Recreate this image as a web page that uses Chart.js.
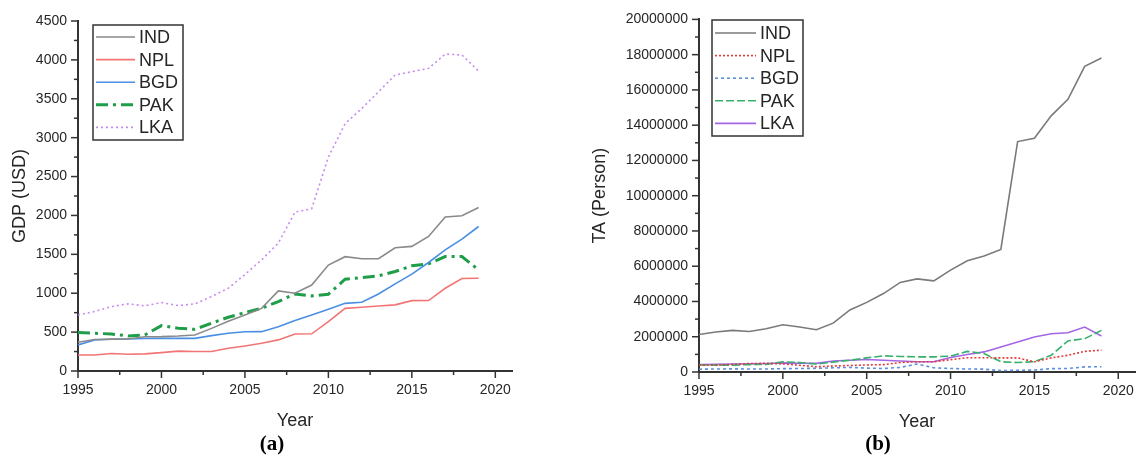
<!DOCTYPE html>
<html>
<head>
<meta charset="utf-8">
<script src="https://cdn.jsdelivr.net/npm/chart.js@4.4.0/dist/chart.umd.min.js"></script>
<style>
  body { margin: 0; background: #fff; width: 1145px; height: 460px; position: relative; overflow: hidden; }
  canvas { position: absolute; top: 0; }
  #chartA { left: 0; }
  #chartB { left: 580px; }
  .cap { position: absolute; top: 429px; width: 60px; text-align: center; line-height: 28px;
         font-family: "Liberation Serif", "Times New Roman", serif; font-weight: bold; font-size: 21px; color: #000; }
</style>
</head>
<body>
<canvas id="chartA" width="530" height="435"></canvas>
<canvas id="chartB" width="565" height="436"></canvas>
<div class="cap" style="left:242px">(a)</div>
<div class="cap" style="left:848px">(b)</div>
<script>
// years and axis ticks
const years = [1995, 1996, 1997, 1998, 1999, 2000, 2001, 2002, 2003, 2004, 2005, 2006, 2007,
               2008, 2009, 2010, 2011, 2012, 2013, 2014, 2015, 2016, 2017, 2018, 2019];
const yearTicks = [1995, 2000, 2005, 2010, 2015, 2020];
const gdpTicks = [0, 500, 1000, 1500, 2000, 2500, 3000, 3500, 4000, 4500];
const taTicks = [0, 2000000, 4000000, 6000000, 8000000, 10000000, 12000000, 14000000, 16000000, 18000000, 20000000];

// (a) GDP per capita, USD
const gdpIND = [370, 405, 410, 412, 440, 442, 450, 463, 548, 640, 720, 805, 1030, 1000, 1105, 1362, 1470, 1443, 1445, 1585, 1602, 1730, 1980, 1996, 2102];
const gdpNPL = [206, 206, 225, 215, 220, 236, 255, 250, 250, 292, 322, 356, 400, 476, 478, 635, 805, 820, 835, 850, 905, 906, 1064, 1190, 1192];
const gdpBGD = [335, 398, 408, 412, 418, 420, 420, 420, 455, 485, 505, 506, 570, 648, 721, 794, 870, 884, 990, 1120, 1245, 1395, 1558, 1695, 1858];
const gdpPAK = [494, 485, 476, 451, 463, 584, 549, 536, 614, 691, 751, 807, 893, 991, 966, 987, 1180, 1202, 1223, 1279, 1352, 1378, 1472, 1472, 1300];
const gdpLKA = [720, 765, 828, 863, 837, 880, 841, 863, 957, 1064, 1240, 1429, 1644, 2043, 2086, 2750, 3180, 3375, 3590, 3806, 3848, 3891, 4075, 4063, 3857];

// (b) tourist arrivals, persons
const taIND = [2130000, 2270000, 2360000, 2300000, 2450000, 2680000, 2550000, 2400000, 2770000, 3520000, 3950000, 4450000, 5080000,
               5280000, 5170000, 5780000, 6310000, 6580000, 6950000, 13070000, 13260000, 14530000, 15470000, 17340000, 17810000];
const taNPL = [390000, 395000, 430000, 480000, 490000, 460000, 380000, 300000, 340000, 370000, 400000, 420000, 540000,
               580000, 580000, 700000, 810000, 810000, 800000, 800000, 580000, 800000, 950000, 1170000, 1240000];
const taBGD = [160000, 170000, 180000, 170000, 170000, 190000, 200000, 210000, 240000, 260000, 220000, 200000, 260000,
               450000, 240000, 200000, 170000, 160000, 80000, 100000, 110000, 190000, 200000, 290000, 300000];
const taPAK = [400000, 390000, 390000, 420000, 430000, 580000, 540000, 450000, 560000, 670000, 800000, 920000, 880000,
               860000, 860000, 900000, 1170000, 1050000, 580000, 540000, 580000, 950000, 1760000, 1890000, 2360000];
const taLKA = [420000, 430000, 450000, 460000, 480000, 520000, 500000, 490000, 620000, 670000, 710000, 670000, 620000,
               580000, 580000, 820000, 990000, 1140000, 1420000, 1700000, 1990000, 2170000, 2230000, 2550000, 2040000];

const axisColor = '#333';
const textColor = '#262626';
Chart.defaults.font.family = '"Liberation Sans", Arial, sans-serif';
Chart.defaults.color = textColor;

function halfSteps(t) {
  const out = [];
  for (let i = 0; i < t.length - 1; i++) out.push((t[i] + t[i + 1]) / 2);
  return out;
}

// outward major/minor tick marks
const axisMarks = {
  id: 'axisMarks',
  afterDraw(chart, args, o) {
    const { ctx, scales: { x, y } } = chart;
    ctx.save();
    ctx.strokeStyle = axisColor;
    ctx.lineWidth = 1.5;
    const mark = (px, py, dx, dy) => {
      ctx.beginPath(); ctx.moveTo(px, py); ctx.lineTo(px + dx, py + dy); ctx.stroke();
    };
    yearTicks.forEach(v => mark(x.getPixelForValue(v), y.bottom, 0, 7));
    halfSteps(yearTicks).forEach(v => mark(x.getPixelForValue(v), y.bottom, 0, 4));
    o.yTicks.forEach(v => mark(x.left, y.getPixelForValue(v), -7, 0));
    halfSteps(o.yTicks).forEach(v => mark(x.left, y.getPixelForValue(v), -4, 0));
    ctx.restore();
  }
};

// framed legend inside the plot
const boxLegend = {
  id: 'boxLegend',
  afterDraw(chart, args, o) {
    const ctx = chart.ctx;
    ctx.save();
    ctx.strokeStyle = axisColor;
    ctx.lineWidth = 1.5;
    ctx.setLineDash([]);
    ctx.strokeRect(o.x, o.y, o.w, o.h);
    ctx.font = '18px "Liberation Sans", Arial, sans-serif';
    ctx.fillStyle = textColor;
    ctx.textBaseline = 'middle';
    chart.data.datasets.forEach((ds, i) => {
      const cy = o.y + o.first + i * o.row;
      ctx.strokeStyle = ds.borderColor;
      ctx.lineWidth = ds.borderWidth;
      ctx.setLineDash(ds.borderDash || []);
      ctx.beginPath(); ctx.moveTo(o.x + 3, cy); ctx.lineTo(o.x + 3 + o.line, cy); ctx.stroke();
      ctx.fillText(ds.label, o.x + o.line + 7, cy + 1);
    });
    ctx.restore();
  }
};

function series(label, values, color, width, dash) {
  return {
    label,
    data: years.map((yr, i) => ({ x: yr, y: values[i] })),
    borderColor: color,
    borderWidth: width,
    borderDash: dash,
    pointRadius: 0,
    tension: 0,
    fill: false
  };
}

function scales(yTicks, yMax, yWidth, yTitle) {
  return {
    x: {
      type: 'linear', min: 1995, max: 2021,
      afterBuildTicks: s => { s.ticks = yearTicks.map(v => ({ value: v })); },
      afterFit: s => { s.height = 64; },
      grid: { display: false, drawTicks: false },
      border: { display: true, color: axisColor, width: 2 },
      ticks: { font: { size: 14 }, color: textColor, padding: 11, maxRotation: 0, callback: v => String(v) },
      title: { display: true, text: 'Year', font: { size: 18 }, color: textColor, padding: { top: 0, bottom: 3 } }
    },
    y: {
      type: 'linear', min: 0, max: yMax,
      afterBuildTicks: s => { s.ticks = yTicks.map(v => ({ value: v })); },
      afterFit: s => { s.width = yWidth; },
      grid: { display: false, drawTicks: false },
      border: { display: true, color: axisColor, width: 2 },
      ticks: { font: { size: 14 }, color: textColor, padding: 11, callback: v => String(v) },
      title: { display: true, text: yTitle, font: { size: 18 }, color: textColor, padding: { top: 9, bottom: 0 } }
    }
  };
}

new Chart(document.getElementById('chartA'), {
  type: 'line',
  data: {
    datasets: [
      series('IND', gdpIND, '#8a8a8a', 1.6, []),
      series('NPL', gdpNPL, '#f27575', 1.6, []),
      series('BGD', gdpBGD, '#4a8fe3', 1.6, []),
      series('PAK', gdpPAK, '#1e9e48', 3, [12, 5, 3, 5]),
      series('LKA', gdpLKA, '#c68bf0', 1.6, [2, 3])
    ]
  },
  options: {
    responsive: false,
    animation: false,
    layout: { padding: { top: 21, right: 18, bottom: 0, left: 0 } },
    scales: scales(gdpTicks, 4500, 78, 'GDP (USD)'),
    plugins: {
      legend: { display: false },
      tooltip: { enabled: false },
      axisMarks: { yTicks: gdpTicks },
      boxLegend: { x: 93, y: 25, w: 90, h: 115, first: 12, row: 22.6, line: 39 }
    }
  },
  plugins: [axisMarks, boxLegend]
});

new Chart(document.getElementById('chartB'), {
  type: 'line',
  data: {
    datasets: [
      series('IND', taIND, '#7a7a7a', 1.6, []),
      series('NPL', taNPL, '#e23b3b', 1.6, [2, 2]),
      series('BGD', taBGD, '#5b8fe0', 1.6, [3, 3]),
      series('PAK', taPAK, '#36b06a', 1.6, [8, 3]),
      series('LKA', taLKA, '#a566e6', 1.6, [])
    ]
  },
  options: {
    responsive: false,
    animation: false,
    layout: { padding: { top: 16, right: 5, bottom: 0, left: 0 } },
    scales: scales(taTicks, 20000000, 119, 'TA (Person)'),
    plugins: {
      legend: { display: false },
      tooltip: { enabled: false },
      axisMarks: { yTicks: taTicks },
      boxLegend: { x: 132, y: 20, w: 91, h: 116, first: 13, row: 22.6, line: 41 }
    }
  },
  plugins: [axisMarks, boxLegend]
});
</script>
</body>
</html>
